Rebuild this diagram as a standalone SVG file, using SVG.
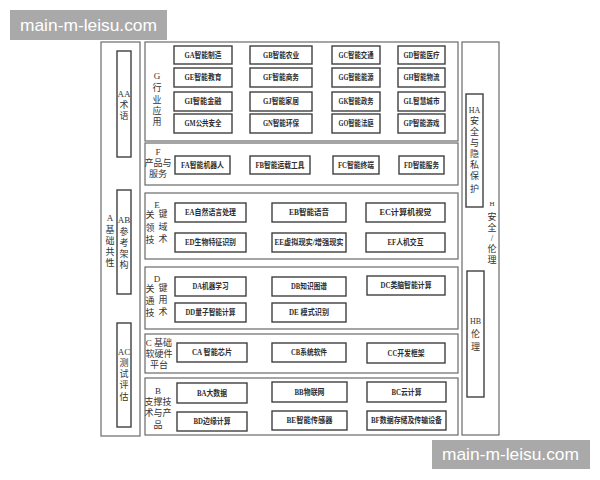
<svg xmlns="http://www.w3.org/2000/svg" width="600" height="480" viewBox="0 0 600 480">
<style>
.pan{fill:none;stroke:#6a6a6a;stroke-width:1.2}
.box{fill:#fff;stroke:#3f3f3f;stroke-width:1.4}
.t{font-family:'Liberation Serif','Noto Sans CJK SC',serif;font-size:8px;fill:#2e2e2e;text-anchor:middle;dominant-baseline:central;font-weight:bold}
.l{font-family:'Liberation Serif','Noto Sans CJK SC',serif;font-size:9px;fill:#333;text-anchor:middle;dominant-baseline:central}
.wm{fill:#a9a9a9}
.wt{font-family:'Liberation Sans',Arial,sans-serif;font-size:17px;fill:#fff;dominant-baseline:central}
</style>
<rect width="600" height="480" fill="#fff"/>

<!-- A column -->
<g id="A">
<rect class="pan" x="101" y="42" width="39" height="394"/>
<text class="l"><tspan x="110" y="218">A</tspan><tspan x="110" y="230">基</tspan><tspan x="110" y="241">础</tspan><tspan x="110" y="252">共</tspan><tspan x="110" y="263">性</tspan></text>
</g>
<g id="AA">
<rect class="box" x="117" y="51" width="14" height="106"/>
<text class="l"><tspan x="124" y="94">AA</tspan><tspan x="124" y="105">术</tspan><tspan x="124" y="116">语</tspan></text>
</g>
<g id="AB">
<rect class="box" x="117" y="190" width="14" height="104"/>
<text class="l"><tspan x="124" y="220">AB</tspan><tspan x="124" y="232">参</tspan><tspan x="124" y="243">考</tspan><tspan x="124" y="254">架</tspan><tspan x="124" y="265">构</tspan></text>
</g>
<g id="AC">
<rect class="box" x="117" y="323" width="14" height="104"/>
<text class="l"><tspan x="124" y="352">AC</tspan><tspan x="124" y="363">测</tspan><tspan x="124" y="374">试</tspan><tspan x="124" y="385">评</tspan><tspan x="124" y="397">估</tspan></text>
</g>

<!-- H column -->
<g id="H">
<rect class="pan" x="462" y="42" width="37" height="393"/>
<text class="l"><tspan x="492" y="204" font-size="7">H</tspan><tspan x="492" y="217">安</tspan><tspan x="492" y="228">全</tspan><tspan x="492" y="238">/</tspan><tspan x="492" y="249">伦</tspan><tspan x="492" y="260">理</tspan></text>
</g>
<g id="HA">
<rect class="box" x="466" y="94" width="17" height="113"/>
<text class="l"><tspan x="474.5" y="110" font-size="8">HA</tspan><tspan x="474.5" y="121">安</tspan><tspan x="474.5" y="132">全</tspan><tspan x="474.5" y="143">与</tspan><tspan x="474.5" y="154">隐</tspan><tspan x="474.5" y="165">私</tspan><tspan x="474.5" y="176">保</tspan><tspan x="474.5" y="189">护</tspan></text>
</g>
<g id="HB">
<rect class="box" x="467" y="271" width="17" height="126"/>
<text class="l"><tspan x="475.5" y="321" font-size="8">HB</tspan><tspan x="475.5" y="334">伦</tspan><tspan x="475.5" y="347">理</tspan></text>
</g>

<!-- G panel -->
<g id="G">
<rect class="pan" x="145" y="42" width="313" height="99"/>
<text class="l"><tspan x="157" y="76">G</tspan><tspan x="157" y="88">行</tspan><tspan x="157" y="100">业</tspan><tspan x="157" y="111">应</tspan><tspan x="157" y="122">用</tspan></text>
</g>
<g id="GA"><rect class="box" x="174" y="46" width="58" height="18"/><text class="t" x="203" y="55" textLength="37" lengthAdjust="spacingAndGlyphs">GA智能制造</text></g>
<g id="GB"><rect class="box" x="250" y="46" width="62" height="18"/><text class="t" x="281" y="55" textLength="36" lengthAdjust="spacingAndGlyphs">GB智能农业</text></g>
<g id="GC"><rect class="box" x="332" y="46" width="48" height="18"/><text class="t" x="356" y="55" textLength="35" lengthAdjust="spacingAndGlyphs">GC智能交通</text></g>
<g id="GD"><rect class="box" x="398" y="46" width="47" height="18"/><text class="t" x="421.5" y="55" textLength="36" lengthAdjust="spacingAndGlyphs">GD智能医疗</text></g>
<g id="GE"><rect class="box" x="174" y="68" width="58" height="19"/><text class="t" x="203" y="77.5" textLength="37" lengthAdjust="spacingAndGlyphs">GE智能教育</text></g>
<g id="GF"><rect class="box" x="250" y="68" width="62" height="19"/><text class="t" x="281" y="77.5" textLength="36" lengthAdjust="spacingAndGlyphs">GF智能商务</text></g>
<g id="GG"><rect class="box" x="332" y="68" width="48" height="19"/><text class="t" x="356" y="77.5" textLength="35" lengthAdjust="spacingAndGlyphs">GG智能能源</text></g>
<g id="GH"><rect class="box" x="398" y="68" width="47" height="19"/><text class="t" x="421.5" y="77.5" textLength="36" lengthAdjust="spacingAndGlyphs">GH智能物流</text></g>
<g id="GI"><rect class="box" x="174" y="92" width="58" height="19"/><text class="t" x="203" y="101.5" textLength="37" lengthAdjust="spacingAndGlyphs">GI智能金融</text></g>
<g id="GJ"><rect class="box" x="250" y="92" width="62" height="19"/><text class="t" x="281" y="101.5" textLength="36" lengthAdjust="spacingAndGlyphs">GJ智能家居</text></g>
<g id="GK"><rect class="box" x="332" y="92" width="48" height="19"/><text class="t" x="356" y="101.5" textLength="35" lengthAdjust="spacingAndGlyphs">GK智能政务</text></g>
<g id="GL"><rect class="box" x="398" y="92" width="47" height="19"/><text class="t" x="421.5" y="101.5" textLength="36" lengthAdjust="spacingAndGlyphs">GL智慧城市</text></g>
<g id="GM"><rect class="box" x="174" y="114" width="58" height="19"/><text class="t" x="203" y="123.5" textLength="37" lengthAdjust="spacingAndGlyphs">GM公共安全</text></g>
<g id="GN"><rect class="box" x="250" y="114" width="62" height="19"/><text class="t" x="281" y="123.5" textLength="36" lengthAdjust="spacingAndGlyphs">GN智能环保</text></g>
<g id="GO"><rect class="box" x="332" y="114" width="48" height="19"/><text class="t" x="356" y="123.5" textLength="35" lengthAdjust="spacingAndGlyphs">GO智能法庭</text></g>
<g id="GP"><rect class="box" x="398" y="114" width="47" height="19"/><text class="t" x="421.5" y="123.5" textLength="36" lengthAdjust="spacingAndGlyphs">GP智能游戏</text></g>

<!-- F panel -->
<g id="F">
<rect class="pan" x="145" y="143" width="313" height="42"/>
<text class="l"><tspan x="158" y="152">F</tspan><tspan x="158" y="163">产品与</tspan><tspan x="158" y="174">服务</tspan></text>
</g>
<g id="FA"><rect class="box" x="175" y="156" width="55" height="18"/><text class="t" x="202.5" y="165" textLength="43" lengthAdjust="spacingAndGlyphs">FA智能机器人</text></g>
<g id="FB"><rect class="box" x="250" y="156" width="60" height="18"/><text class="t" x="280" y="165" textLength="49" lengthAdjust="spacingAndGlyphs">FB智能运载工具</text></g>
<g id="FC"><rect class="box" x="333" y="156" width="46" height="18"/><text class="t" x="356" y="165" textLength="36" lengthAdjust="spacingAndGlyphs">FC智能终端</text></g>
<g id="FD"><rect class="box" x="399" y="156" width="45" height="18"/><text class="t" x="421.5" y="165" textLength="35" lengthAdjust="spacingAndGlyphs">FD智能服务</text></g>

<!-- E panel -->
<g id="E">
<rect class="pan" x="145" y="193" width="313" height="66"/>
<text class="l"><tspan x="157" y="205">E</tspan><tspan x="150" y="215">关</tspan><tspan x="163" y="214">键</tspan><tspan x="150" y="228">领</tspan><tspan x="163" y="227">域</tspan><tspan x="150" y="240">技</tspan><tspan x="163" y="239">术</tspan></text>
</g>
<g id="EA"><rect class="box" x="175" y="203" width="71" height="19"/><text class="t" x="210.5" y="212.5" textLength="51" lengthAdjust="spacingAndGlyphs">EA自然语言处理</text></g>
<g id="EB"><rect class="box" x="272" y="203" width="74" height="19"/><text class="t" x="309" y="212.5" textLength="40" lengthAdjust="spacingAndGlyphs">EB智能语音</text></g>
<g id="EC"><rect class="box" x="366" y="203" width="79" height="19"/><text class="t" x="405.5" y="212.5" textLength="52" lengthAdjust="spacingAndGlyphs">EC计算机视觉</text></g>
<g id="ED"><rect class="box" x="175" y="233" width="71" height="19"/><text class="t" x="210.5" y="242.5" textLength="51" lengthAdjust="spacingAndGlyphs">ED生物特征识别</text></g>
<g id="EE"><rect class="box" x="272" y="233" width="74" height="19"/><text class="t" x="309" y="242.5" textLength="69" lengthAdjust="spacingAndGlyphs">EE虚拟现实/增强现实</text></g>
<g id="EF"><rect class="box" x="366" y="233" width="79" height="19"/><text class="t" x="405.5" y="242.5" textLength="36" lengthAdjust="spacingAndGlyphs">EF人机交互</text></g>

<!-- D panel -->
<g id="D">
<rect class="pan" x="145" y="267" width="313" height="62"/>
<text class="l"><tspan x="157" y="279">D</tspan><tspan x="150" y="289">关</tspan><tspan x="163" y="288">键</tspan><tspan x="150" y="301">通</tspan><tspan x="163" y="300">用</tspan><tspan x="150" y="313">技</tspan><tspan x="163" y="312">术</tspan></text>
</g>
<g id="DA"><rect class="box" x="175" y="277" width="71" height="19"/><text class="t" x="210.5" y="286.5" textLength="36" lengthAdjust="spacingAndGlyphs">DA机器学习</text></g>
<g id="DB"><rect class="box" x="272" y="277" width="74" height="19"/><text class="t" x="309" y="286.5" textLength="36" lengthAdjust="spacingAndGlyphs">DB知识图谱</text></g>
<g id="DC"><rect class="box" x="367" y="276" width="78" height="19"/><text class="t" x="406" y="285.5" textLength="51" lengthAdjust="spacingAndGlyphs">DC类脑智能计算</text></g>
<g id="DD"><rect class="box" x="175" y="303" width="71" height="19"/><text class="t" x="210.5" y="312.5" textLength="50" lengthAdjust="spacingAndGlyphs">DD量子智能计算</text></g>
<g id="DE"><rect class="box" x="272" y="303" width="74" height="19"/><text class="t" x="309" y="312.5" textLength="40" lengthAdjust="spacingAndGlyphs">DE  模式识别</text></g>

<!-- C panel -->
<g id="C">
<rect class="pan" x="145" y="334" width="313" height="39"/>
<text class="l"><tspan x="159" y="343">C 基础</tspan><tspan x="159" y="354">软硬件</tspan><tspan x="159" y="365">平台</tspan></text>
</g>
<g id="CA"><rect class="box" x="177" y="343" width="70" height="19"/><text class="t" x="212" y="352.5" textLength="40" lengthAdjust="spacingAndGlyphs">CA 智能芯片</text></g>
<g id="CB"><rect class="box" x="272" y="343" width="74" height="19"/><text class="t" x="309" y="352.5" textLength="36" lengthAdjust="spacingAndGlyphs">CB系统软件</text></g>
<g id="CC"><rect class="box" x="367" y="343" width="78" height="20"/><text class="t" x="406" y="353" textLength="37" lengthAdjust="spacingAndGlyphs">CC开发框架</text></g>

<!-- B panel -->
<g id="B">
<rect class="pan" x="145" y="378" width="313" height="57"/>
<text class="l"><tspan x="158" y="391">B</tspan><tspan x="158" y="402">支撑技</tspan><tspan x="158" y="413">术与产</tspan><tspan x="158" y="425">品</tspan></text>
</g>
<g id="BA"><rect class="box" x="177" y="383" width="70" height="20"/><text class="t" x="212" y="393" textLength="30" lengthAdjust="spacingAndGlyphs">BA大数据</text></g>
<g id="BB"><rect class="box" x="272" y="382" width="75" height="20"/><text class="t" x="309.5" y="392" textLength="30" lengthAdjust="spacingAndGlyphs">BB物联网</text></g>
<g id="BC"><rect class="box" x="367" y="382" width="79" height="20"/><text class="t" x="406.5" y="392" textLength="30" lengthAdjust="spacingAndGlyphs">BC云计算</text></g>
<g id="BD"><rect class="box" x="177" y="412" width="70" height="19"/><text class="t" x="212" y="421.5" textLength="37" lengthAdjust="spacingAndGlyphs">BD边缘计算</text></g>
<g id="BE"><rect class="box" x="272" y="411" width="75" height="19"/><text class="t" x="309.5" y="420.5" textLength="46" lengthAdjust="spacingAndGlyphs">BE智能传感器</text></g>
<g id="BF"><rect class="box" x="367" y="411" width="79" height="19"/><text class="t" x="406.5" y="420.5" textLength="71" lengthAdjust="spacingAndGlyphs">BF数据存储及传输设备</text></g>

<!-- watermarks -->
<g id="wm1"><rect class="wm" x="10" y="10" width="157" height="30"/><text class="wt" x="20" y="25" textLength="137" lengthAdjust="spacingAndGlyphs">main-m-leisu.com</text></g>
<g id="wm2"><rect class="wm" x="432" y="440" width="158" height="29"/><text class="wt" x="442" y="454.5" textLength="137" lengthAdjust="spacingAndGlyphs">main-m-leisu.com</text></g>
</svg>
